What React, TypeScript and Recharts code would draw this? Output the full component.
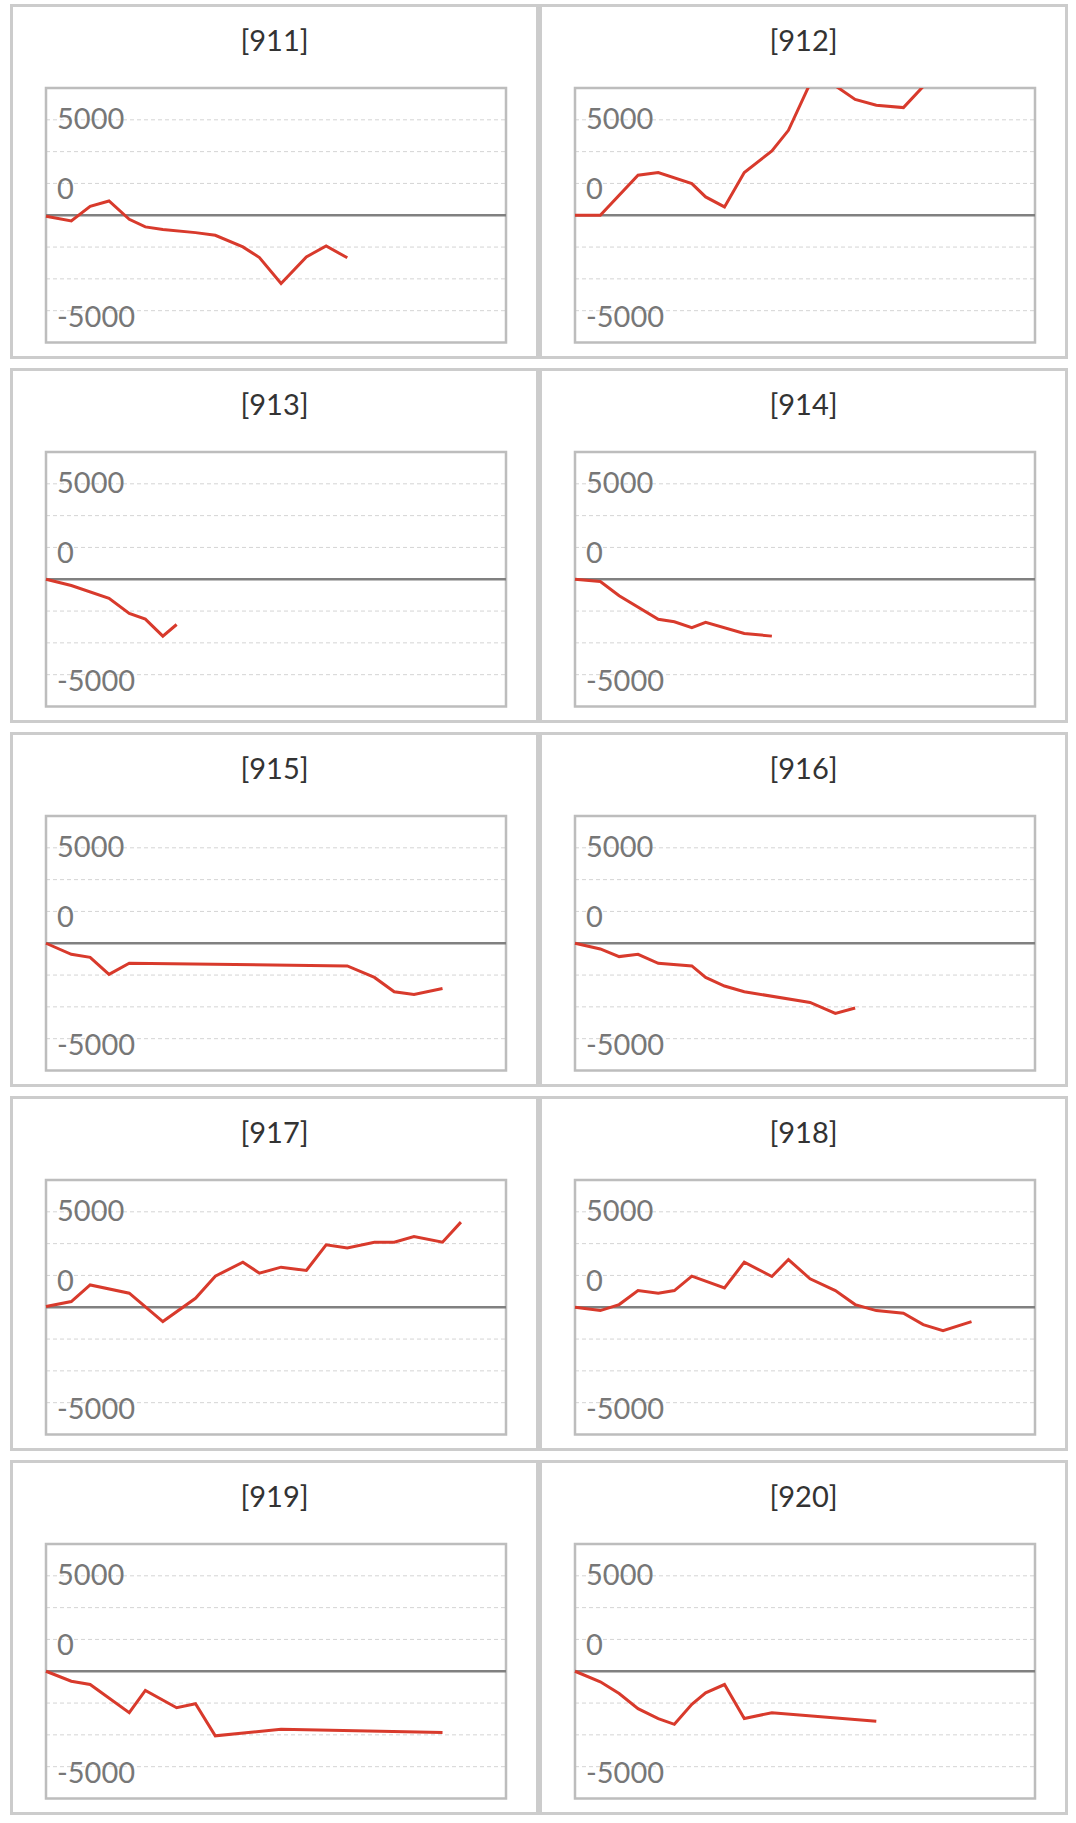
import React from 'react';
import {
  LineChart,
  Line,
  XAxis,
  YAxis,
  CartesianGrid,
  ReferenceLine,
  ReferenceArea,
} from 'recharts';

// trading days, as a position along the period (0 = start, 100 = end)
const days = [0, 5.5, 9.6, 13.7, 18.1, 21.6, 25.4, 28.4, 32.5, 36.8, 42.8, 46.4, 51.1, 56.6, 60.9, 65.5, 71.4, 75.7, 80.0, 86.2, 90.2];

const titles = ['[911]', '[912]', '[913]', '[914]', '[915]', '[916]', '[917]', '[918]', '[919]', '[920]'];

const s911 = [-50, -300, 470, 750, -210, -610, -750, null, -910, -1050, -1660, -2215, -3580, -2180, -1605, -2230, null, null, null, null, null];
const s912 = [0, 0, null, 2095, 2235, null, 1660, 960, 435, 2235, 3370, 4450, 6900, 6780, 6070, 5760, 5640, 6750, null, null, null];
const s913 = [0, -330, null, -1000, -1790, -2090, -2980, -2370, null, null, null, null, null, null, null, null, null, null, null, null, null];
const s914 = [0, -120, -860, null, -2100, -2230, -2540, -2260, null, -2840, -2980, null, null, null, null, null, null, null, null, null, null];
const s915 = [0, -580, -740, -1630, -1050, null, null, null, null, null, null, null, null, null, null, -1190, -1790, -2540, -2680, -2370, null];
const s916 = [0, -300, -700, -580, -1050, null, -1190, -1790, -2240, -2540, null, null, -3100, -3680, -3390, null, null, null, null, null, null];
const s917 = [35, 300, 1170, null, 735, null, -750, null, 470, 1630, 2360, 1785, 2100, 1925, 3270, 3100, 3410, 3410, 3710, 3410, 4460];
const s918 = [0, -175, 140, 875, 735, 875, 1630, null, 1015, 2360, 1610, 2500, 1490, 875, 140, -175, -315, -910, -1225, -750, null];
const s919 = [0, -520, -695, null, -2170, -1005, null, -1910, -1700, -3385, null, null, -3040, null, null, null, null, null, null, -3210, null];
const s920 = [0, -555, -1165, -1960, -2480, -2780, -1735, -1130, -695, -2480, -2170, null, null, null, null, -2620, null, null, null, null, null];

const allSeries = [s911, s912, s913, s914, s915, s916, s917, s918, s919, s920];

const yDomain = [-6667, 6667];
const yTicks = [-5000, -3333, -1667, 0, 1667, 3333, 5000];
const yTickLabels = ['-5000', '', '', '', '0', '', '5000'];

const FONT = 'Lato, "Noto Sans", sans-serif';

const YTick = (props: any) => {
  const { x, y, payload } = props;
  const idx = yTicks.indexOf(payload.value);
  const text = idx >= 0 ? yTickLabels[idx] : '';
  if (!text) return <g />;
  // labels sit inside the plot, a little under their grid line
  const dy = payload.value === 5000 ? 9 : 16;
  return (
    <text x={x + 11} y={y + dy} textAnchor="start" fill="#777777" fontSize={29} fontFamily={FONT}>
      {text}
    </text>
  );
};

function Panel({ title, values, left, top }: { title: string; values: (number | null)[]; left: number; top: number }) {
  const data = days.map((d, i) => ({ day: d, value: values[i] }));
  return (
    <div
      style={{
        position: 'absolute',
        left,
        top,
        width: 523,
        height: 349,
        border: '3px solid #cccccc',
        background: '#fff',
      }}
    >
      <div
        style={{
          position: 'absolute',
          left: 0,
          top: 13,
          width: '100%',
          textAlign: 'center',
          fontFamily: FONT,
          fontSize: 29,
          lineHeight: '40px',
          color: '#333',
        }}
      >
        {title}
      </div>
      <div style={{ position: 'absolute', left: 0, top: 0 }}>
        <LineChart width={523} height={349} data={data} margin={{ top: 81, right: 30, left: 32, bottom: 13.5 }}>
          <CartesianGrid horizontal vertical={false} stroke="#d4d4d4" strokeDasharray="4 3" />
          <XAxis type="number" dataKey="day" domain={[0, 100]} hide />
          <YAxis
            type="number"
            domain={yDomain}
            ticks={yTicks}
            allowDataOverflow
            width={1}
            axisLine={false}
            tickLine={false}
            tickSize={0}
            tickMargin={0}
            tick={(p: any) => <YTick {...p} />}
            interval={0}
          />
          <ReferenceArea x1={0} x2={100} y1={yDomain[0]} y2={yDomain[1]} fill="none" fillOpacity={0} stroke="#bdbdbd" strokeWidth={2.5} />
          <ReferenceLine y={0} stroke="#808080" strokeWidth={2.5} />
          <Line
            type="linear"
            dataKey="value"
            stroke="#d83a2c"
            strokeWidth={3}
            dot={false}
            activeDot={false}
            connectNulls
            isAnimationActive={false}
          />
        </LineChart>
      </div>
    </div>
  );
}

export default function App() {
  const colLeft = [10, 539];
  return (
    <div style={{ position: 'absolute', left: 0, top: 0, width: 1076, height: 1823, background: '#fff' }}>
      {allSeries.map((values, i) => (
        <Panel
          key={titles[i]}
          title={titles[i]}
          values={values}
          left={colLeft[i % 2]}
          top={4 + 364 * Math.floor(i / 2)}
        />
      ))}
    </div>
  );
}
